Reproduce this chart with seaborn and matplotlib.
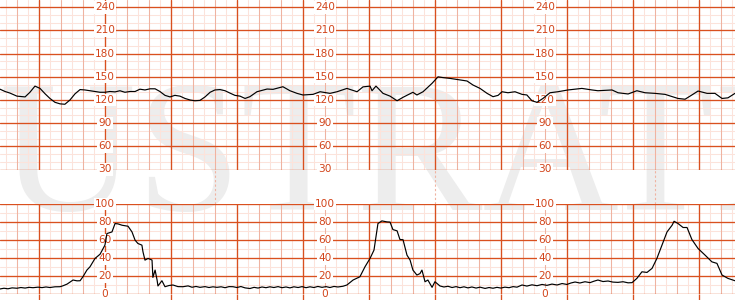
import numpy as np
import matplotlib
matplotlib.use("Agg")
import matplotlib.pyplot as plt
import seaborn as sns

# ---- data (time in minutes from the left edge of the strip) ----
fhr_time = [0.00, 0.23, 0.45, 0.77, 1.14, 1.36, 1.59, 1.82, 2.05, 2.27, 2.50, 2.73, 2.95, 3.18, 3.41,
            3.64, 3.86, 4.09, 4.32, 4.55, 4.77, 5.00, 5.23, 5.45, 5.68, 5.91, 6.14, 6.36, 6.59, 6.82,
            7.05, 7.27, 7.50, 7.73, 7.95, 8.18, 8.41, 8.64, 8.86, 9.09, 9.32, 9.55, 9.77, 10.00, 10.23,
            10.45, 10.68, 10.91, 11.14, 11.36, 11.68, 12.14, 12.41, 12.86, 13.18, 13.50, 13.77, 14.23,
            14.55, 15.00, 15.32, 15.77, 16.23, 16.50, 16.82, 16.91, 17.09, 17.41, 17.73, 18.05, 18.32,
            18.77, 18.95, 19.23, 19.64, 19.91, 20.14, 20.45, 20.91, 21.23, 21.50, 21.82, 22.14, 22.41,
            22.64, 22.82, 23.09, 23.41, 23.73, 23.95, 24.18, 24.41, 24.68, 25.00, 25.36, 25.82, 26.45,
            26.91, 27.18, 27.82, 28.09, 28.55, 28.95, 29.32, 29.77, 30.23, 30.82, 31.14, 31.45, 31.73,
            32.14, 32.50, 32.82, 33.09, 33.41]
fhr_bpm = [134, 131, 129, 125, 124, 130, 138, 135, 128, 122, 117, 115, 114.5, 120, 128,
           133.5, 133, 132, 131, 130, 130, 131, 130.5, 132, 130, 131, 131, 134, 133, 134.5,
           134.5, 131, 126, 124, 126, 125, 122, 120, 119, 119.5, 124, 130, 133, 133.5, 132,
           129, 126, 125, 122, 124.3, 130.7, 134.2, 133.8, 137.2, 132, 128.6, 126.5, 127.3,
           130.7, 128.6, 130.7, 135, 130.7, 137, 138, 132, 138, 128.6, 125, 119, 123.5,
           130, 126.5, 130.7, 141.6, 150, 149, 148, 146, 144.6, 139.4, 135, 128.6, 124.3,
           126, 130.7, 129.4, 130.7, 127.3, 126.5, 119, 117, 122, 129.4, 130.7, 133, 135,
           133, 132, 133, 129.4, 127.8, 132, 129.4, 128.6, 127.3, 122, 121, 126.5, 131.6,
           128.6, 128.6, 122, 122.8, 128.6]

toco_time = [0.00, 0.18, 0.36, 0.55, 0.77, 0.95, 1.14, 1.32, 1.50, 1.73, 1.91, 2.09, 2.27, 2.50, 2.73,
             2.86, 3.05, 3.18, 3.32, 3.50, 3.64, 3.77, 3.95, 4.09, 4.32, 4.55, 4.77, 4.86, 5.09, 5.23,
             5.36, 5.55, 5.82, 6.00, 6.14, 6.27, 6.45, 6.50, 6.59, 6.73, 6.91, 6.95, 7.05, 7.14, 7.18,
             7.36, 7.50, 7.68, 7.86, 8.09, 8.32, 8.55, 8.73, 8.91, 9.09, 9.32, 9.50, 9.68, 9.86, 10.05,
             10.23, 10.41, 10.59, 10.77, 10.95, 11.14, 11.36, 11.55, 11.73, 11.91, 12.09, 12.27, 12.45,
             12.64, 12.82, 13.00, 13.18, 13.36, 13.55, 13.73, 13.91, 14.09, 14.27, 14.45, 14.64, 14.82,
             15.00, 15.18, 15.36, 15.59, 15.77, 16.05, 16.23, 16.36, 16.59, 16.82, 17.00, 17.09, 17.18,
             17.36, 17.59, 17.73, 17.86, 18.05, 18.18, 18.32, 18.50, 18.64, 18.77, 18.95, 19.09, 19.18,
             19.32, 19.45, 19.64, 19.77, 20.00, 20.18, 20.36, 20.55, 20.73, 20.91, 21.09, 21.27, 21.45,
             21.64, 21.82, 22.05, 22.23, 22.41, 22.59, 22.77, 22.95, 23.14, 23.32, 23.50, 23.73, 23.95,
             24.18, 24.41, 24.64, 24.86, 25.09, 25.32, 25.55, 25.77, 25.95, 26.14, 26.36, 26.59, 26.82,
             27.00, 27.18, 27.41, 27.64, 27.86, 28.09, 28.32, 28.55, 28.73, 28.95, 29.18, 29.41, 29.64,
             29.86, 30.09, 30.32, 30.55, 30.64, 30.82, 31.05, 31.23, 31.45, 31.73, 32.05, 32.36, 32.59,
             32.82, 33.09, 33.41]
toco_val = [6.0, 6.8, 6.2, 7.2, 6.8, 7.6, 7.0, 7.8, 7.4, 8.0, 7.5, 8.2, 7.6, 8.4, 8.5,
            9.5, 11.4, 13.5, 15.9, 15.0, 15.1, 19.5, 26.9, 30.5, 39.8, 44.5, 54.5, 67.3, 69.1, 78.4,
            78.0, 76.5, 75.4, 69.1, 60.0, 56.3, 54.5, 47.0, 37.9, 39.8, 38.0, 18.8, 26.9, 15.9, 9.3,
            15.1, 8.5, 9.8, 10.4, 8.6, 8.5, 9.4, 7.9, 8.8, 7.8, 8.6, 7.6, 8.4, 7.8, 8.4,
            7.4, 8.6, 8.5, 7.6, 8.7, 7.2, 6.5, 7.8, 7.0, 8.2, 7.4, 8.4, 7.6,
            8.6, 7.4, 8.2, 7.2, 8.4, 7.6, 8.6, 7.4, 8.4, 7.6, 8.8, 7.8, 8.6,
            7.6, 8.8, 8.2, 9.0, 10.4, 15.9, 18.0, 19.5, 30.5, 39.8, 49.0, 63.6, 78.4,
            81.3, 80.2, 80.0, 71.7, 70.3, 60.7, 60.5, 43.4, 38.0, 26.9, 21.4, 23.0, 26.9,
            14.0, 15.9, 7.8, 14.0, 9.3, 8.2, 9.0, 7.6, 8.6, 7.4, 8.4, 7.2, 8.2,
            7.0, 8.0, 6.6, 7.6, 6.8, 7.8, 7.0, 8.0, 7.4, 8.6, 8.0, 10.4, 9.2,
            10.6, 9.6, 11.0, 10.0, 11.4, 10.4, 12.0, 11.0, 12.6, 13.7, 12.6, 14.0, 13.0,
            14.6, 15.9, 14.2, 14.8, 13.6, 13.3, 14.0, 12.8, 13.0, 17.7, 25.0, 24.3, 28.8,
            39.8, 54.5, 69.1, 76.5, 80.9, 78.4, 74.0, 74.0, 60.7, 50.8, 43.4, 36.0, 34.3,
            21.4, 17.7, 15.1]

fhr_labels = [30, 60, 90, 120, 150, 180, 210, 240]
toco_labels = [0, 20, 40, 60, 80, 100]

# ---- style ----
DARK = "#d9501f"
MED = "#efb3a1"
LIGHT = "#fce3db"
LABEL = "#d2441a"
T_END = 33.41
PHASE = 1.773           # time of the first heavy vertical grid line

sns.set_style("white")
plt.rcParams["font.family"] = ["DejaVu Sans"]

fig = plt.figure(figsize=(7.35, 3.0), dpi=100)
fig.patch.set_facecolor("white")
fig.text(0.5, 0.30, "ILLUSTRATIVE", ha="center", va="baseline", fontsize=136,
         family=["Liberation Serif", "DejaVu Serif"], color="#ededed", zorder=-5)

ax_top = fig.add_axes([0, 0.435, 1, 0.5663])
ax_mid = fig.add_axes([0, 0.321, 1, 0.114])
ax_bot = fig.add_axes([0, 0.0187, 1, 0.3013])

light_x = [x for x in np.arange(PHASE - 3, T_END + 0.5, 0.5) if 0 <= x <= T_END]
med_x = [x for x in np.arange(PHASE - 3, T_END + 1, 1.0) if 0 <= x <= T_END]
dark_x = [x for x in np.arange(PHASE, T_END + 1, 3.0) if 0 <= x <= T_END]
label_x = [PHASE + 3, PHASE + 13, PHASE + 23]
marker_x = [PHASE + 8, PHASE + 18, PHASE + 28]


def grid(ax, ymin, ymax, major, minor):
    for x in light_x:
        ax.axvline(x, color=LIGHT, lw=0.75, zorder=1)
    for y in np.arange(ymin, ymax + 0.1, minor):
        ax.axhline(y, color=LIGHT, lw=0.75, zorder=1)
    for x in med_x:
        ax.axvline(x, color=MED, lw=0.75, zorder=1.5)
    for x in dark_x:
        ax.axvline(x, color=DARK, lw=0.95, zorder=2)
    for y in np.arange(ymin, ymax + 0.1, major):
        ax.axhline(y, color=DARK, lw=0.95, zorder=2)


def labels(ax, values):
    for lx in label_x:
        for v in values:
            ax.text(lx, v, str(v), ha="center", va="center", fontsize=7.6, color=LABEL,
                    zorder=3, bbox=dict(boxstyle="square,pad=0.12", fc="white", ec="none"))


for ax in (ax_top, ax_mid, ax_bot):
    ax.set_facecolor("none")
    for s in ax.spines.values():
        s.set_visible(False)

grid(ax_top, 30, 240, 30, 10)
labels(ax_top, fhr_labels)
sns.lineplot(x=fhr_time, y=fhr_bpm, ax=ax_top, color="black", lw=0.85,
             estimator=None, sort=False, zorder=5)
ax_top.set_ylim(30, 250)

grid(ax_bot, 0, 100, 20, 10)
labels(ax_bot, toco_labels)
sns.lineplot(x=toco_time, y=toco_val, ax=ax_bot, color="black", lw=0.85,
             estimator=None, sort=False, zorder=5)
ax_bot.set_ylim(0, 100)

for x in marker_x:
    ax_mid.axvline(x, color=MED, lw=0.8, ls=(0, (2, 2)))
ax_mid.set_ylim(0, 1)

for ax in (ax_top, ax_mid, ax_bot):
    ax.set_xlim(0, T_END)
    ax.set_xlabel("")
    ax.set_ylabel("")
    ax.set_yticks([])

ax_top.set_xticks([])
ax_mid.set_xticks([])
ax_bot.set_xticks(dark_x)
ax_bot.tick_params(axis="x", bottom=True, direction="out", length=4.5, width=0.95,
                   color=DARK, labelbottom=False)

fig.savefig("out.png", dpi=100)
